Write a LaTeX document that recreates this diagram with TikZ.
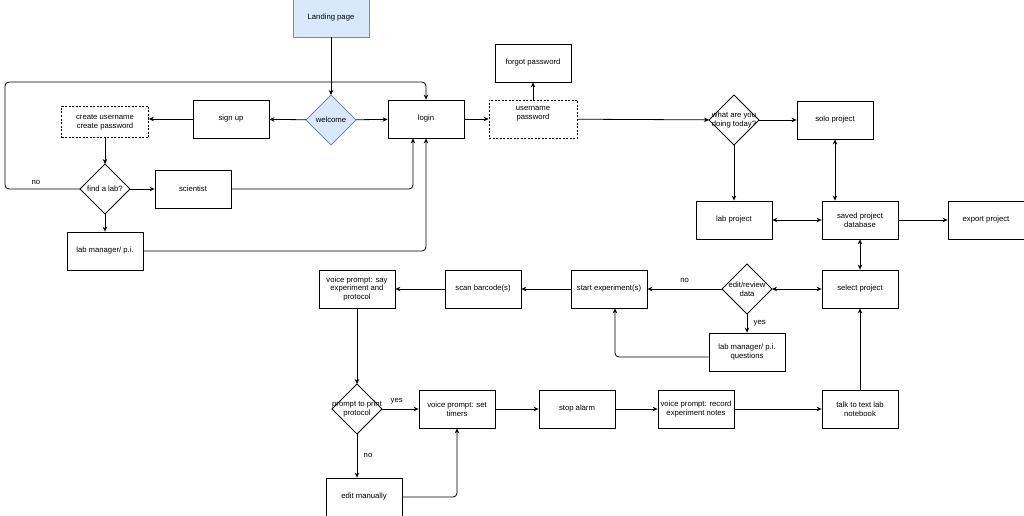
\documentclass[tikz,border=0pt]{standalone}
\usepackage{fontspec}
\setmainfont{Liberation Sans}
\usetikzlibrary{arrows.meta,positioning,shapes.geometric}
\definecolor{pageblue}{HTML}{DAE8FC}
\definecolor{pageedge}{HTML}{6C8EBF}
\begin{document}
\begin{tikzpicture}[x=1pt,y=-1pt,>={Stealth[length=5pt,width=4.5pt]},
  every node/.style={font=\fontsize{7.7}{8.7}\selectfont},
  box/.style={draw,line width=0.8pt,minimum width=76pt,minimum height=38pt,inner sep=1pt,align=center},
  dotbox/.style={box,dash pattern=on 2pt off 1.5pt},
  bluebox/.style={box,fill=pageblue,draw=pageedge},
  choice/.style={draw,diamond,line width=0.8pt,minimum width=50pt,minimum height=50pt,inner sep=0pt,outer sep=0pt},
  arr/.style={->,line width=0.8pt},
  both/.style={<->,line width=0.8pt}]
\useasboundingbox (0,0) rectangle (1024,516);
% top row
\node[bluebox] (landing) at (331,18) {Landing page};
\node[choice,fill=pageblue,draw=pageedge,label={center:welcome}] (welcome) at (331,120) {};
\node[box] (signup) at (231,119) {sign up};
\node[dotbox,minimum width=87pt,minimum height=31pt] (create) at (105,122) {create username\\create password};
\node[choice,label={center:find a lab?}] (findlab) at (105,189) {};
\node[box] (scientist) at (193,189) {scientist};
\node[box] (labmgr) at (105,251) {lab manager/ p.i.};
\node[box] (login) at (426,119) {login};
\node[dotbox,minimum width=88pt,label={[align=center,yshift=5pt]center:username\\password}] (userpass) at (533,119) {};
\node[box] (forgot) at (533,63) {forgot password};
\node[choice,label={[align=center]center:what are you\\doing today?}] (today) at (734,120) {};
\node[box] (solo) at (835,120) {solo project};
\node[box] (labproj) at (734,220) {lab project};
\node[box] (saved) at (860,220) {saved project\\database};
\node[box] (export) at (986,220) {export project};
% middle row
\node[box] (select) at (860,289) {select project};
\node[choice,label={[align=center]center:edit/review\\data}] (review) at (747,289) {};
\node[box] (start) at (609,289) {start experiment(s)};
\node[box] (labq) at (747,352) {lab manager/ p.i.\\questions};
\node[box] (scan) at (483,289) {scan barcode(s)};
\node[box] (sayexp) at (357,289) {voice prompt: say\\experiment and\\protocol};
% bottom row
\node[choice,label={[align=center]center:prompt to print\\protocol}] (print) at (357,409) {};
\node[box] (timers) at (457,409) {voice prompt: set\\timers};
\node[box] (alarm) at (577,409) {stop alarm};
\node[box] (notes) at (696,409) {voice prompt: record\\experiment notes};
\node[box] (talk) at (860,409) {talk to text lab\\notebook};
\node[box] (manual) at (364,497) {edit manually};
\coordinate (loopL) at (5,82);

\draw[arr] (landing) -- (welcome);
\draw[arr] (welcome) -- (signup);
\draw[arr] (welcome) -- (login);
\draw[arr] (signup) -- (create.east |- signup);
\draw[arr] (create) -- (findlab);
\draw[arr] (findlab) -- (scientist);
\draw[arr] (findlab) -- (labmgr);
\draw[arr,rounded corners=4pt] (findlab.west) -| (loopL) -| (login.north);
\node at (36,182) {no};
\draw[arr,rounded corners=4pt] (scientist.east) -| ([xshift=-13pt]login.south);
\draw[arr,rounded corners=4pt] (labmgr.east) -| (login.south);
\draw[arr] (login) -- (userpass);
\draw[arr] (userpass) -- (forgot);
\draw[arr] (userpass) -- (today);
\draw[arr] (today) -- (solo);
\draw[arr] (today) -- (labproj);
\draw[both] (solo.south) -- (solo.south |- saved.north);
\draw[both] (labproj) -- (saved);
\draw[arr] (saved) -- (export);
\draw[both] (saved) -- (select);
\draw[both] (review) -- (select);
\draw[arr] (review) -- node[above=3pt] {no} (start);
\draw[arr] (review) -- node[right=3pt] {yes} (labq);
\draw[arr,rounded corners=4pt] ([yshift=-5pt]labq.west) -| ([xshift=6pt]start.south);
\draw[arr] (start) -- (scan);
\draw[arr] (scan) -- (sayexp);
\draw[arr] (sayexp) -- (print);
\draw[arr] (print) -- node[above=1pt,pos=0.4] {yes} (timers);
\draw[arr] (print) -- node[right=3pt] {no} (print |- manual.north);
\draw[arr,rounded corners=4pt] (manual.east) -| (timers.south);
\draw[arr] (timers) -- (alarm);
\draw[arr] (alarm) -- (notes);
\draw[arr] (notes) -- (talk);
\draw[arr] (talk) -- (select);
\end{tikzpicture}
\end{document}
